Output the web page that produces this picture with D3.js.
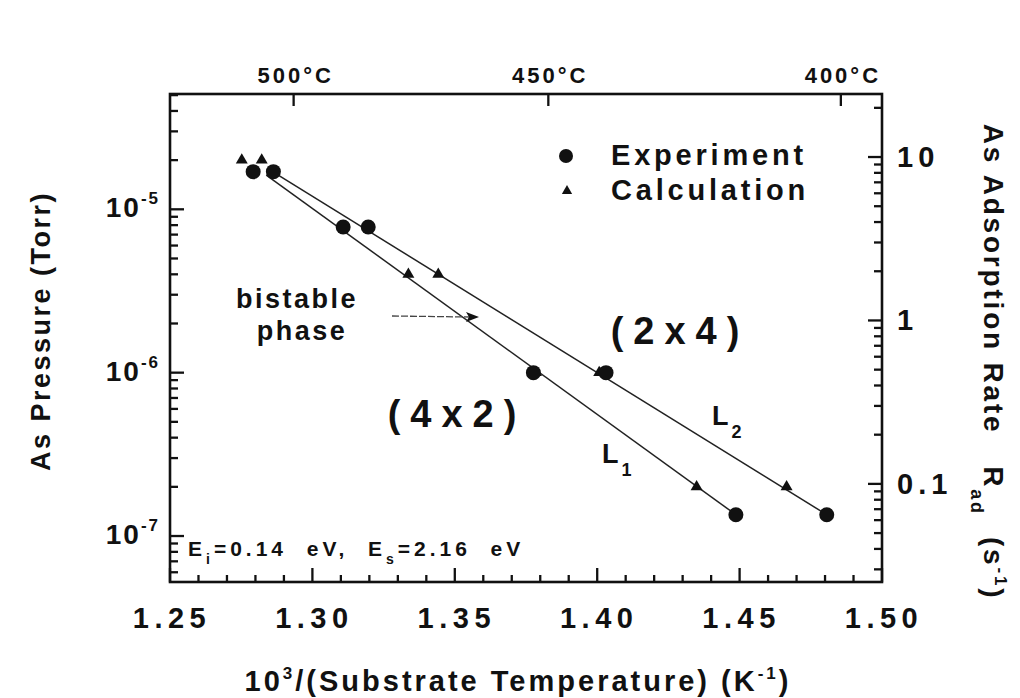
<!DOCTYPE html>
<html>
<head>
<meta charset="utf-8">
<script src="https://cdn.jsdelivr.net/npm/d3@7/dist/d3.min.js"></script>
<style>
  html, body { margin: 0; padding: 0; background: #fff; }
  svg { display: block; }
  text { font-family: "Liberation Sans", Arial, Helvetica, sans-serif; font-weight: bold; fill: #111; }
  .tick-mark { stroke: #111; stroke-width: 2.3; }
</style>
</head>
<body>
<svg id="chart" width="1020" height="698"></svg>
<script>
// Experiment (circles) and calculation (triangles): x = 1000/T (K^-1), y = As pressure (Torr)
const expX = [1.2792, 1.2863, 1.3108, 1.3196, 1.3776, 1.4031, 1.4487, 1.4806];
const expP = [1.7e-5, 1.7e-5, 7.8e-6, 7.8e-6, 1.0e-6, 1.0e-6, 1.35e-7, 1.35e-7];
const calcX = [1.2752, 1.2822, 1.3337, 1.3442, 1.3785, 1.4007, 1.4349, 1.4665];
const calcP = [2.0e-5, 2.0e-5, 4.0e-6, 4.0e-6, 1.0e-6, 1.0e-6, 2.0e-7, 2.0e-7];

// Phase boundary lines L1 and L2 (end points)
const l1X = [1.2838, 1.4487];
const l1P = [1.62e-5, 1.35e-7];
const l2X = [1.2880, 1.4806];
const l2P = [1.62e-5, 1.35e-7];

// Axis ticks
const xMajor = [1.25, 1.30, 1.35, 1.40, 1.45, 1.50];
const xMajorLabels = ["1.25", "1.30", "1.35", "1.40", "1.45", "1.50"];
const tempC = [500, 450, 400];
const pDecades = [1e-5, 1e-6, 1e-7];
const pDecadeExp = ["-5", "-6", "-7"];
const rDecades = [10, 1, 0.1];
const rDecadeLabels = ["10", "1", "0.1"];

const svg = d3.select("#chart");
const plotL = 170, plotR = 882, plotT = 94, plotB = 582;

const x = d3.scaleLinear().domain([1.25, 1.50]).range([plotL, plotR]);
const y = d3.scaleLog().domain([5.23e-8, 5.08e-5]).range([plotB, plotT]);
const yR = d3.scaleLog().domain([0.0251, 24.3]).range([plotB, plotT]);

const ink = "#111";

function minorLog(scale) {
  const [a, b] = scale.domain();
  const out = [];
  for (let e = Math.floor(Math.log10(a)); e <= Math.ceil(Math.log10(b)); e++) {
    for (let m = 2; m <= 9; m++) {
      const v = m * Math.pow(10, e);
      if (v >= a && v <= b) out.push(v);
    }
  }
  return out;
}
const xMinor = d3.range(1.25, 1.5001, 0.01).filter(v => !xMajor.some(m => Math.abs(m - v) < 1e-6));

// frame
svg.append("rect").attr("x", plotL).attr("y", plotT)
  .attr("width", plotR - plotL).attr("height", plotB - plotT)
  .attr("fill", "none").attr("stroke", ink).attr("stroke-width", 2.6);

// inward tick marks
const tickG = svg.append("g");
function hTicks(vals, scale, x0, len) {
  vals.forEach(v => {
    const yy = scale(v);
    tickG.append("path").attr("class", "tick-mark")
      .attr("d", `M${x0},${yy}H${x0 + len}`);
  });
}
function vTicks(vals, scale, y0, len) {
  vals.forEach(v => {
    const xx = scale(v);
    tickG.append("path").attr("class", "tick-mark")
      .attr("d", `M${xx},${y0}V${y0 + len}`);
  });
}
vTicks(xMinor, x, plotB, -7);
vTicks(xMajor, x, plotB, -14);
vTicks(tempC.map(t => 1000 / (t + 273.15)), x, plotT, 12);
hTicks(minorLog(y), y, plotL, 8);
hTicks(pDecades, y, plotL, 14);
hTicks(minorLog(yR), yR, plotR, -8);
hTicks(rDecades, yR, plotR, -14);

// tick labels
svg.append("g").selectAll("text").data(xMajor).join("text")
  .attr("x", d => x(d) + 2).attr("y", 628).attr("text-anchor", "middle")
  .attr("font-size", 29).attr("letter-spacing", 5.5)
  .text((d, i) => xMajorLabels[i]);

svg.append("g").selectAll("text").data(tempC).join("text")
  .attr("x", d => x(1000 / (d + 273.15)) + 2).attr("y", 83).attr("text-anchor", "middle")
  .attr("font-size", 22).attr("letter-spacing", 3)
  .text(d => d + "°C");

pDecades.forEach((v, i) => {
  const t = svg.append("text").attr("x", 160).attr("y", y(v) + 8)
    .attr("text-anchor", "end").attr("font-size", 28).attr("letter-spacing", 2);
  t.append("tspan").text("10");
  t.append("tspan").attr("font-size", 17).attr("dy", -13).text(pDecadeExp[i]);
});

rDecades.forEach((v, i) => {
  svg.append("text").attr("x", 897).attr("y", yR(v) + 10)
    .attr("font-size", 29).attr("letter-spacing", 5).text(rDecadeLabels[i]);
});

// ---- axis titles ----
const xt = svg.append("text").attr("x", 518).attr("y", 691).attr("text-anchor", "middle")
  .attr("font-size", 29).attr("letter-spacing", 3);
xt.append("tspan").text("10");
xt.append("tspan").attr("font-size", 17).attr("dy", -12).text("3");
xt.append("tspan").attr("dy", 12).text("/(Substrate Temperature) (K");
xt.append("tspan").attr("font-size", 17).attr("dy", -12).text("-1");
xt.append("tspan").attr("dy", 12).text(")");

svg.append("text").attr("transform", "translate(50,331) rotate(-90)")
  .attr("text-anchor", "middle").attr("font-size", 27).attr("letter-spacing", 2.5)
  .text("As Pressure (Torr)");

const rt = svg.append("text").attr("transform", "translate(984,362) rotate(90)")
  .attr("text-anchor", "middle").attr("font-size", 28).attr("letter-spacing", 2.8)
  .attr("xml:space", "preserve");
rt.append("tspan").text("As Adsorption Rate   R");
rt.append("tspan").attr("font-size", 18).attr("dy", 13).text("ad");
rt.append("tspan").attr("dy", -13).text("  (s");
rt.append("tspan").attr("font-size", 17).attr("dy", -11).text("-1");
rt.append("tspan").attr("dy", 11).text(")");

// ---- lines L1, L2 ----
const boundary = d3.line().x(d => x(d[0])).y(d => y(d[1]));
[[l1X, l1P], [l2X, l2P]].forEach(([xs, ps]) => {
  svg.append("path").datum(xs.map((v, i) => [v, ps[i]]))
    .attr("d", boundary).attr("fill", "none").attr("stroke", "#222").attr("stroke-width", 1.5);
});

// ---- markers ----
const tri = d3.symbol().type(d3.symbolTriangle).size(62);
svg.append("g").selectAll("path").data(calcX.map((v, i) => [v, calcP[i]])).join("path")
  .attr("d", tri).attr("transform", d => `translate(${x(d[0])},${y(d[1])})`).attr("fill", ink);
svg.append("g").selectAll("circle").data(expX.map((v, i) => [v, expP[i]])).join("circle")
  .attr("cx", d => x(d[0])).attr("cy", d => y(d[1])).attr("r", 7.5).attr("fill", ink);

// ---- legend ----
svg.append("circle").attr("cx", 566).attr("cy", 156).attr("r", 7).attr("fill", ink);
svg.append("path").attr("d", d3.symbol().type(d3.symbolTriangle).size(46)())
  .attr("transform", "translate(567,191)").attr("fill", ink);
svg.append("text").attr("x", 611).attr("y", 165).attr("font-size", 29).attr("letter-spacing", 3.8).text("Experiment");
svg.append("text").attr("x", 611).attr("y", 200).attr("font-size", 29).attr("letter-spacing", 3.8).text("Calculation");

// ---- annotations ----
svg.append("text").attr("x", 297).attr("y", 308).attr("text-anchor", "middle")
  .attr("font-size", 27).attr("letter-spacing", 2.5).text("bistable");
svg.append("text").attr("x", 302).attr("y", 340).attr("text-anchor", "middle")
  .attr("font-size", 27).attr("letter-spacing", 2.5).text("phase");

svg.append("line").attr("x1", 392).attr("y1", 316).attr("x2", 470).attr("y2", 317)
  .attr("stroke", "#444").attr("stroke-width", 1.3).attr("stroke-dasharray", "7,2");
svg.append("path").attr("d", "M479,317 L466,312 L469,317 L466,322 Z").attr("fill", ink);

svg.append("text").attr("x", 680).attr("y", 344).attr("text-anchor", "middle")
  .attr("font-size", 38).attr("letter-spacing", 10).text("(2x4)");
svg.append("text").attr("x", 457).attr("y", 427).attr("text-anchor", "middle")
  .attr("font-size", 38).attr("letter-spacing", 10).text("(4x2)");

const lab1 = svg.append("text").attr("x", 602).attr("y", 463).attr("font-size", 27);
lab1.append("tspan").text("L");
lab1.append("tspan").attr("font-size", 18).attr("dy", 13).attr("dx", 3).text("1");
const lab2 = svg.append("text").attr("x", 712).attr("y", 425).attr("font-size", 27);
lab2.append("tspan").text("L");
lab2.append("tspan").attr("font-size", 18).attr("dy", 13).attr("dx", 3).text("2");

const et = svg.append("text").attr("x", 188).attr("y", 556).attr("font-size", 21)
  .attr("letter-spacing", 4).attr("xml:space", "preserve");
et.append("tspan").text("E");
et.append("tspan").attr("font-size", 14).attr("dy", 8).text("i");
et.append("tspan").attr("dy", -8).text("=0.14  eV,  E");
et.append("tspan").attr("font-size", 14).attr("dy", 8).text("s");
et.append("tspan").attr("dy", -8).text("=2.16  eV");
</script>
</body>
</html>
